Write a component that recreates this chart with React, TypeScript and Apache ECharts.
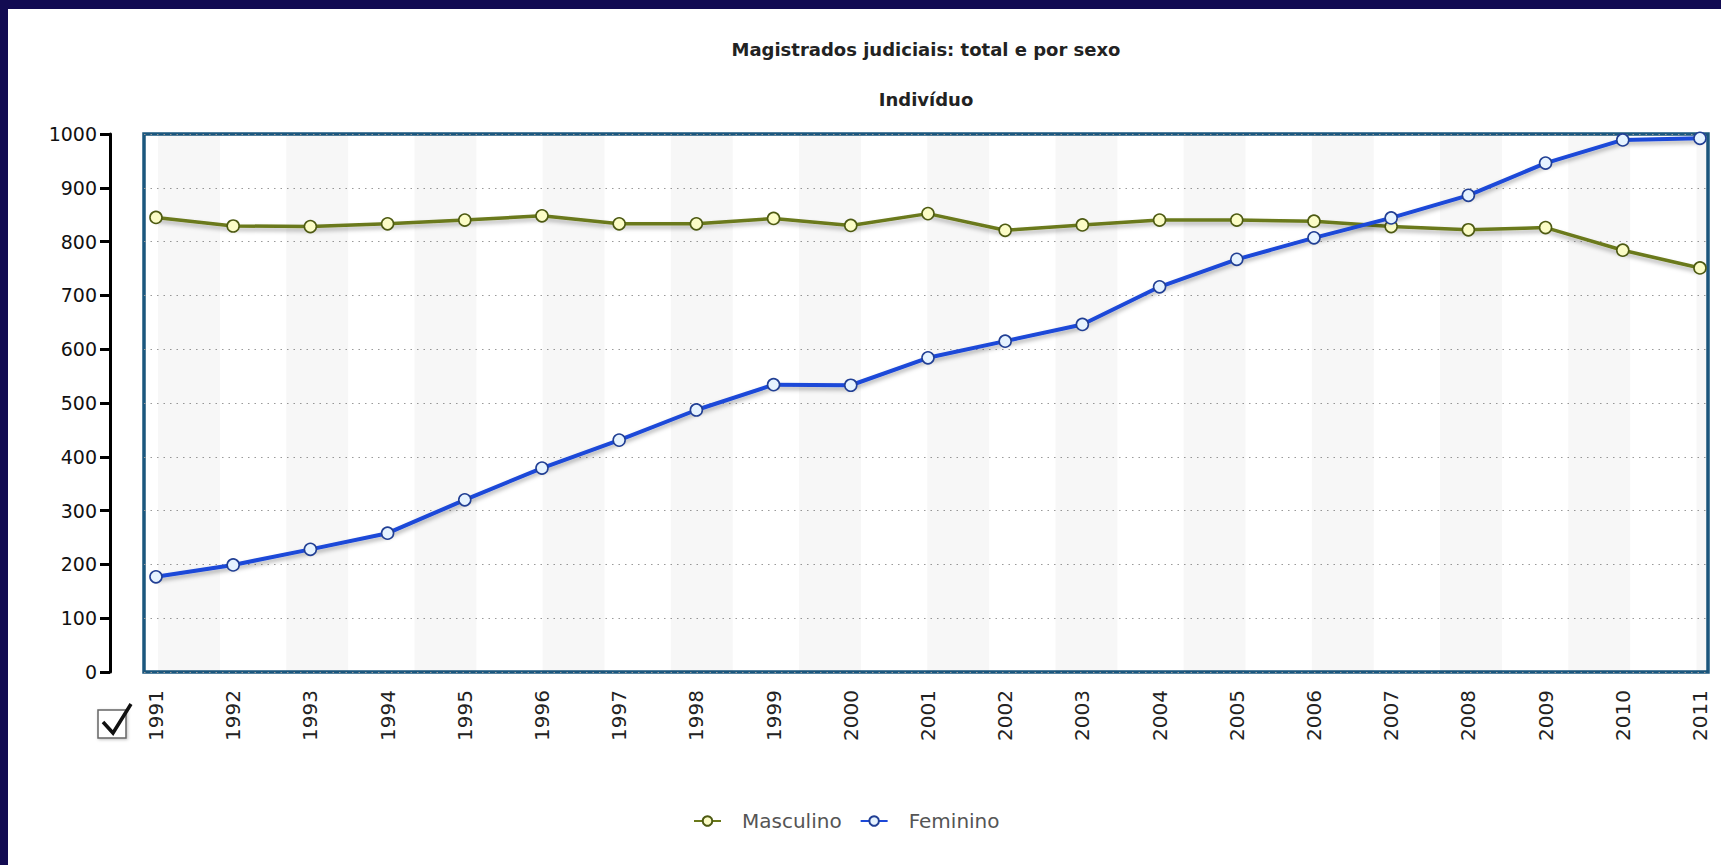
import React, { useEffect, useRef } from "react";
import * as echarts from "echarts";

const years = [1991, 1992, 1993, 1994, 1995, 1996, 1997, 1998, 1999, 2000, 2001, 2002, 2003, 2004, 2005, 2006, 2007, 2008, 2009, 2010, 2011];
const masculino = [845, 829, 828, 833, 840, 848, 833, 833, 843, 830, 852, 821, 831, 840, 840, 838, 828, 822, 826, 784, 751];
const feminino = [177, 199, 228, 258, 320, 379, 431, 487, 534, 533, 584, 615, 646, 716, 767, 807, 844, 886, 946, 989, 992];
const seriesNames = ["Masculino", "Feminino"];
const titleText = "Magistrados judiciais: total e por sexo";
const unitText = "Indivíduo";

export default function App() {
  const ref = useRef<HTMLDivElement>(null);
  useEffect(() => {
    if (!ref.current) return;
    const chart = echarts.init(ref.current, null, { renderer: "svg" });
    const gridLeft = 144, gridTop = 134, gridW = 1564, gridH = 538;
    const bandPeriod = 128.2, bandWidth = 62, bandStart = 14;
    const bands: any[] = [];
    for (let s = bandStart; s < gridW; s += bandPeriod) {
      bands.push([{ xAxis: s }, { xAxis: Math.min(s + bandWidth, gridW) }]);
    }
    const font = "DejaVu Sans";
    const option: any = {
      animation: false,
      backgroundColor: "#ffffff",
      grid: {
        left: gridLeft, top: gridTop, width: gridW, height: gridH,
        show: true, borderColor: "#1b577e", borderWidth: 3.5, backgroundColor: "#ffffff",
      },
      legend: {
        data: seriesNames,
        left: 688, top: 806,
        itemWidth: 27, itemHeight: 12, itemGap: 18,
        textStyle: { fontFamily: font, fontSize: 20, color: "#555", padding: [0, 0, 0, 16] },
      },
      xAxis: [
        {
          type: "value", gridIndex: 0, min: 1990.845, max: 2011.104,
          axisLine: { show: false, onZero: false }, axisTick: { show: false }, splitLine: { show: false },
          axisLabel: {
            customValues: years, rotate: 90, margin: 18,
            formatter: (v: number) => String(v),
            fontFamily: font, fontSize: 20, color: "#222",
          },
        },
        {
          type: "value", gridIndex: 0, min: 0, max: gridW, position: "top",
          axisLine: { show: false, onZero: false }, axisTick: { show: false }, axisLabel: { show: false }, splitLine: { show: false },
        },
      ],
      yAxis: {
        type: "value", min: 0, max: 1000, interval: 100, offset: 34,
        axisLine: { show: true, onZero: false, lineStyle: { color: "#000", width: 3 } },
        axisTick: { show: true, length: 10, lineStyle: { color: "#000", width: 3 } },
        axisLabel: { margin: 13, fontFamily: font, fontSize: 19, color: "#111", formatter: (v: number) => String(v) },
        splitLine: { show: true, lineStyle: { color: "#9a9a9a", type: [1.5, 5], width: 1.2 } },
      },
      series: [
        {
          type: "line", xAxisIndex: 1, yAxisIndex: 0, data: [], silent: true, z: 1,
          markArea: { silent: true, itemStyle: { color: "rgba(0,0,0,0.03)" }, data: bands },
        },
        {
          name: seriesNames[0], type: "line", xAxisIndex: 0, yAxisIndex: 0,
          data: years.map((y, i) => [y, masculino[i]]),
          symbol: "circle", symbolSize: 12, z: 3,
          lineStyle: { color: "#6a791a", width: 3.5, shadowColor: "rgba(0,0,0,0.3)", shadowBlur: 4, shadowOffsetY: 3 },
          itemStyle: { color: "#fbfcc6", borderColor: "#4d5a12", borderWidth: 1.6 },
        },
        {
          name: seriesNames[1], type: "line", xAxisIndex: 0, yAxisIndex: 0,
          data: years.map((y, i) => [y, feminino[i]]),
          symbol: "circle", symbolSize: 12, z: 4,
          lineStyle: { color: "#1c48d8", width: 4, shadowColor: "rgba(0,0,0,0.3)", shadowBlur: 4, shadowOffsetY: 3 },
          itemStyle: { color: "#e6f3ff", borderColor: "#213f94", borderWidth: 1.6 },
        },
      ],
      graphic: [
        { type: "rect", shape: { x: 0, y: 0, width: 1721, height: 9 }, style: { fill: "#120b52" }, silent: true },
        { type: "rect", shape: { x: 0, y: 0, width: 8, height: 865 }, style: { fill: "#120b52" }, silent: true },
        {
          type: "text", x: 926, y: 49,
          style: { text: titleText, textAlign: "center", textVerticalAlign: "middle", font: `bold 18px "${font}"`, fill: "#222" },
        },
        {
          type: "text", x: 926, y: 99,
          style: { text: unitText, textAlign: "center", textVerticalAlign: "middle", font: `bold 18px "${font}"`, fill: "#222" },
        },
        {
          type: "rect", shape: { x: 98, y: 710, width: 28, height: 28 },
          style: { fill: "#fff", stroke: "#666", lineWidth: 1.5, shadowColor: "rgba(0,0,0,0.25)", shadowBlur: 3, shadowOffsetX: 1, shadowOffsetY: 1 },
        },
        {
          type: "polyline", shape: { points: [[103, 722], [113, 733], [131, 704]] },
          style: { stroke: "#111", lineWidth: 3.5, fill: "none" },
        },
      ],
    };
    chart.setOption(option);
    return () => chart.dispose();
  }, []);
  return <div ref={ref} style={{ position: "fixed", left: 0, top: 0, width: 1721, height: 865 }} />;
}
